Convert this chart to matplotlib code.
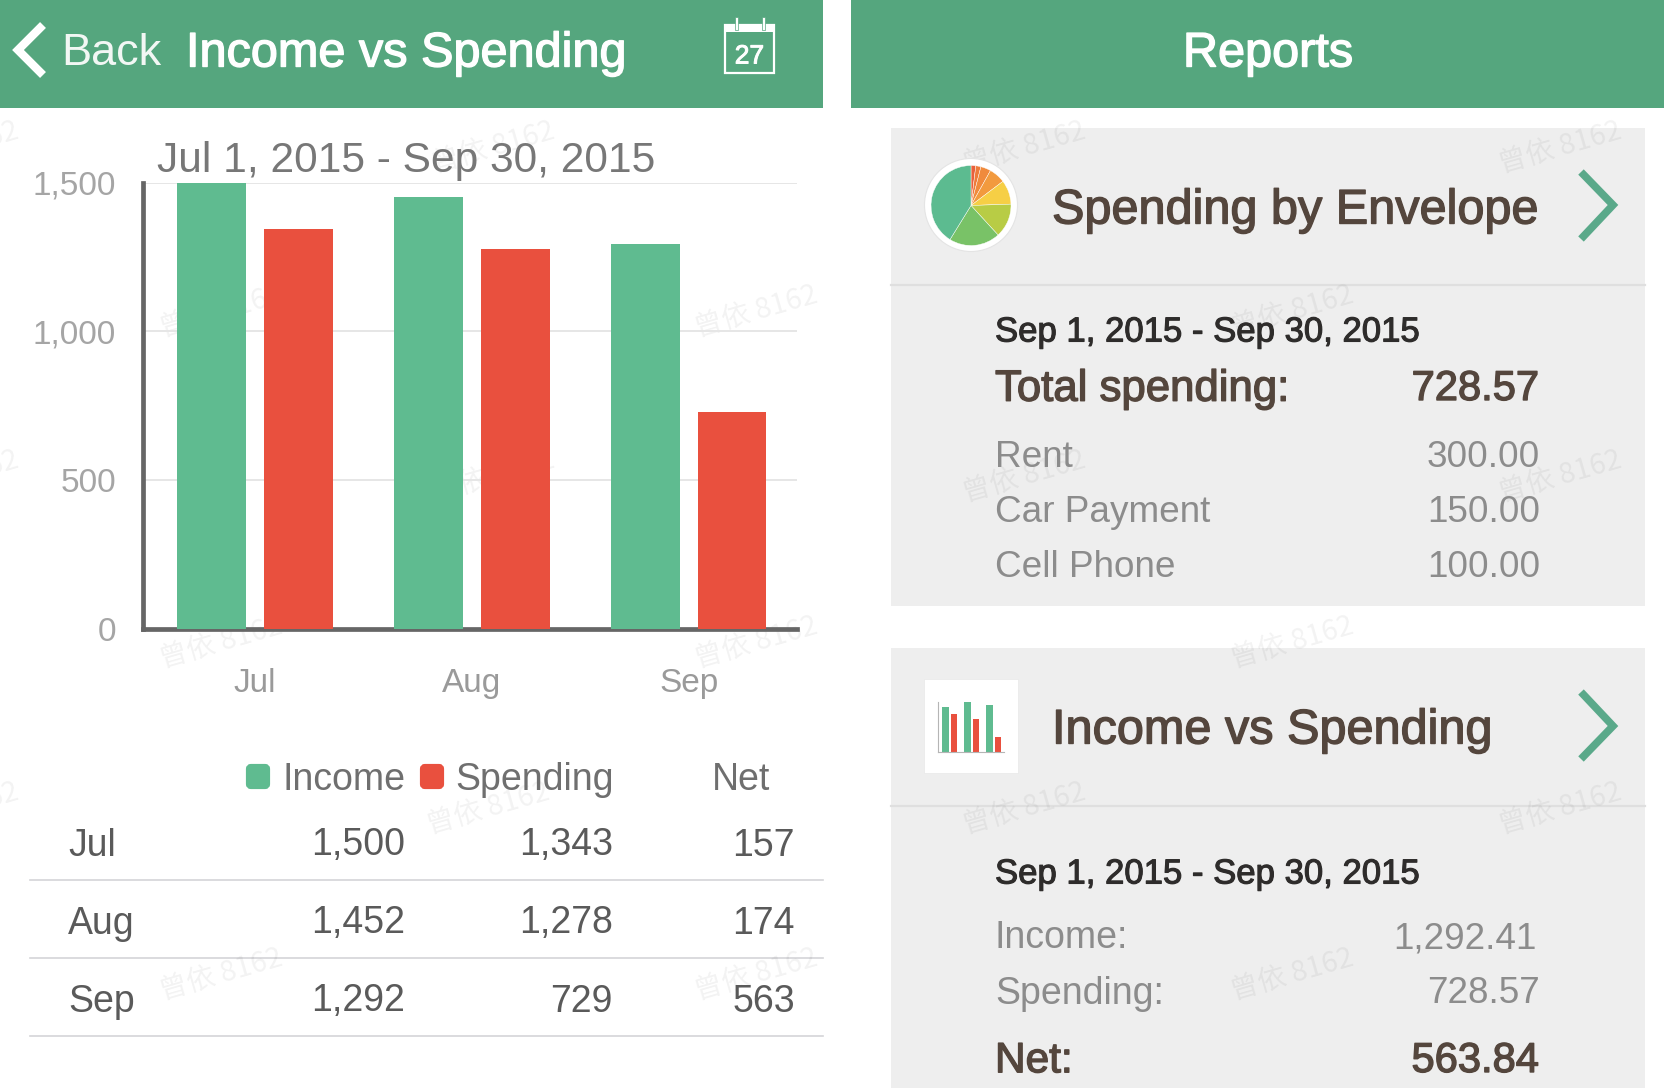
import numpy as np
import matplotlib
matplotlib.use('Agg')
import matplotlib.pyplot as plt
import matplotlib.patheffects as pe
from matplotlib.patches import Rectangle, FancyBboxPatch, Circle

W, H = 1664, 1088
FONT = ['Liberation Sans', 'DejaVu Sans']
plt.rcParams['font.family'] = FONT

months = ['Jul', 'Aug', 'Sep']
income = [1500, 1452, 1292]
spending = [1343, 1278, 729]
net = [157, 174, 563]
y_ticks = [0, 500, 1000, 1500]

envelope_names = ['Rent', 'Car Payment', 'Cell Phone']
envelope_values = ['300.00', '150.00', '100.00']
# pie wedges clockwise from 12 o'clock
pie_values = [14, 15, 30, 48, 71, 100, 150, 300]
pie_colors = ['#e8603c', '#ee7a3a', '#f08a3c', '#f29a3e', '#f6cf45', '#b8cc45', '#79c267', '#5cbb90']
# little bar chart in the report icon
icon_income = [1339, 1500, 1389]
icon_spending = [1138, 987, 433]

GREEN_HEAD = '#55a67e'
GREEN = '#5fbb90'
RED = '#e9503e'
CHEVRON = '#5aa98a'
PANEL = '#eeeeee'
BROWN = '#54463d'
GREY = '#8c8c8c'
AXIS = '#666666'

fig = plt.figure(figsize=(W / 100, H / 100), dpi=100, facecolor='white')

# full figure layer in pixel coordinates, for the app chrome
bg = fig.add_axes([0, 0, 1, 1], zorder=0)
bg.set_xlim(0, W)
bg.set_ylim(H, 0)
bg.axis('off')


def px_axes(x0, y0, x1, y1, zorder=1):
    a = fig.add_axes([x0 / W, 1 - y1 / H, (x1 - x0) / W, (y1 - y0) / H], zorder=zorder)
    a.patch.set_visible(False)
    return a


def label(x, y, s, size, color=GREY, ha='left', stroke=0.0, zorder=5):
    # y is the middle of the capitals, in pixels
    base = y + 0.36 * size * 100 / 72
    t = bg.text(x, base, s, fontsize=size, color=color, ha=ha, va='baseline', zorder=zorder)
    if stroke:
        t.set_path_effects([pe.withStroke(linewidth=stroke, foreground=color)])
    return t


def chevron(pts, lw, color):
    xs, ys = zip(*pts)
    bg.plot(xs, ys, color=color, lw=lw, solid_joinstyle='miter', solid_capstyle='butt', zorder=5)


# headers
bg.add_patch(Rectangle((0, 0), 823, 107.5, color=GREEN_HEAD, lw=0, zorder=1))
bg.add_patch(Rectangle((851, 0), W - 851, 107.5, color=GREEN_HEAD, lw=0, zorder=1))
chevron([(43, 25), (18, 50), (43, 75)], 6, 'white')
label(61, 49, 'Back', 32.4, '#f2f7f4')
label(186, 49, 'Income vs Spending', 35, 'white', stroke=1.0)
label(1268, 49, 'Reports', 35, 'white', ha='center', stroke=1.0)

# calendar icon
bg.add_patch(Rectangle((725, 25), 49, 48, fc='none', ec='white', lw=1.6, zorder=5))
bg.add_patch(Rectangle((725, 25), 49, 7, fc='white', lw=0, zorder=5))
for rx in (735, 762):
    bg.add_patch(Rectangle((rx, 17), 3, 13, fc='white', ec=GREEN_HEAD, lw=0.5, zorder=6))
label(749.5, 54, '27', 19, 'white', ha='center', stroke=0.7)

# report panels
bg.add_patch(Rectangle((891, 128), 754, 478, color=PANEL, lw=0, zorder=1))
bg.add_patch(Rectangle((891, 648), 754, H - 648, color=PANEL, lw=0, zorder=1))
for yy in (285, 805.5):
    bg.plot([891, 1645], [yy, yy], color='#dfdfdf', lw=1.6, zorder=2)

# watermark
wm_rows = [(139, [-40, 465, 965, 1470]), (294, [208, 712, 1218]), (449, [-40, 465, 965, 1470]),
           (606, [208, 712, 1218]), (762, [-40, 460, 965, 1470]), (919, [208, 712, 1218])]
for wy, wxs in wm_rows:
    for wx in wxs:
        bg.text(wx * W / 1568, wy * W / 1568, '曾依 8162', fontsize=20.5, rotation=16, color='#000000',
                alpha=0.05, ha='center', va='center', rotation_mode='anchor',
                family=['Noto Sans CJK SC', 'DejaVu Sans'], zorder=3)

# main bar chart
ax = px_axes(143, 182.5, 797, 629)
x = np.arange(len(months))
ax.bar(x - 0.2, income, 0.318, color=GREEN, zorder=3)
ax.bar(x + 0.2, spending, 0.318, color=RED, zorder=3)
ax.set_xlim(-0.517, 2.500)
ax.set_ylim(0, 1500)
ax.set_xticks(x, months)
ax.set_yticks(y_ticks, [f'{v:,}' for v in y_ticks])
ax.tick_params(axis='x', length=0, pad=28, labelsize=24, labelcolor='#9a9a9a')
ax.tick_params(axis='y', length=0, pad=19.5, labelsize=24, labelcolor='#a5a5a5')
ax.grid(axis='y', color='#e6e6e6', lw=1.4, zorder=0)
ax.set_axisbelow(True)
for side in ('top', 'right'):
    ax.spines[side].set_visible(False)
for side in ('left', 'bottom'):
    ax.spines[side].set_color(AXIS)
    ax.spines[side].set_linewidth(3.4)

label(157, 157, 'Jul 1, 2015 - Sep 30, 2015', 30.6, '#777777')

# legend and table under the chart
col_x = [405, 613, 795]
for sx, col in ((245, GREEN), (419, RED)):
    bg.add_patch(FancyBboxPatch((sx + 3, 766), 20, 21, boxstyle='round,pad=0,rounding_size=3',
                                mutation_aspect=1, fc=col, ec=col, lw=3, zorder=5))
label(282, 777, 'Income', 27, '#6f6f6f')
label(455, 777, 'Spending', 27, '#6f6f6f')
label(770, 777, 'Net', 27, '#6f6f6f', ha='right')
for i, yy in enumerate((842, 920, 998)):
    label(68, yy, months[i], 27, '#5a5a5a')
    label(col_x[0], yy, f'{income[i]:,}', 27, '#5a5a5a', ha='right')
    label(col_x[1], yy, f'{spending[i]:,}', 27, '#5a5a5a', ha='right')
    label(col_x[2], yy, f'{net[i]:,}', 27, '#5a5a5a', ha='right')
for yy in (880, 958, 1036):
    bg.plot([30, 823], [yy, yy], color='#d4d4d8', lw=1.2, zorder=2)

# spending by envelope card
bg.add_patch(Circle((971, 205), 46.5, fc='white', ec='#e4e4e4', lw=0.8, zorder=4))
pie_ax = px_axes(931, 165.5, 1011, 245.5, zorder=2)
pie_ax.pie(pie_values, colors=pie_colors, startangle=90, counterclock=False, radius=1.0,
           wedgeprops={'edgecolor': 'white', 'linewidth': 0.3})
pie_ax.set_xlim(-1, 1)
pie_ax.set_ylim(-1, 1)
label(1052, 206, 'Spending by Envelope', 35, BROWN, stroke=1.0)
chevron([(1581, 172), (1613, 205), (1581, 239)], 5.5, CHEVRON)
label(995, 329, 'Sep 1, 2015 - Sep 30, 2015', 25, '#2e2c2b', stroke=0.8)
label(995, 385, 'Total spending:', 31.5, BROWN, stroke=1.0)
label(1539, 385, '728.57', 30, BROWN, ha='right', stroke=1.0)
for i, yy in enumerate((454, 509, 563.5)):
    label(995, yy, envelope_names[i], 26.6, GREY)
    label(1540, yy, envelope_values[i], 26.6, GREY, ha='right')

# income vs spending card
bg.add_patch(Rectangle((924, 679), 94, 94, fc='white', ec='#e8e8e8', lw=0.5, zorder=2))
icon = px_axes(937.5, 701.7, 1004, 751.7, zorder=2)
ix = np.arange(len(icon_income))
icon.bar(ix - 0.2, icon_income, 0.3, color=GREEN)
icon.bar(ix + 0.2, icon_spending, 0.3, color=RED)
icon.set_xlim(-0.55, 2.47)
icon.set_ylim(0, 1500)
icon.set_xticks([])
icon.set_yticks([])
for side in ('top', 'right'):
    icon.spines[side].set_visible(False)
for side in ('left', 'bottom'):
    icon.spines[side].set_color('#b5b5b5')
    icon.spines[side].set_linewidth(0.8)
label(1052, 726, 'Income vs Spending', 35, BROWN, stroke=1.0)
chevron([(1581, 692), (1613, 726), (1581, 759)], 5.5, CHEVRON)
label(995, 871, 'Sep 1, 2015 - Sep 30, 2015', 25, '#2e2c2b', stroke=0.8)
label(995, 935, 'Income:', 27, GREY)
label(1537, 935, '1,292.41', 26.6, GREY, ha='right')
label(995, 990, 'Spending:', 27, GREY)
label(1540, 990, '728.57', 26.6, GREY, ha='right')
label(995, 1057, 'Net:', 30.5, BROWN, stroke=1.0)
label(1539, 1057, '563.84', 30, BROWN, ha='right', stroke=1.0)

fig.savefig('out.png', dpi=100)
